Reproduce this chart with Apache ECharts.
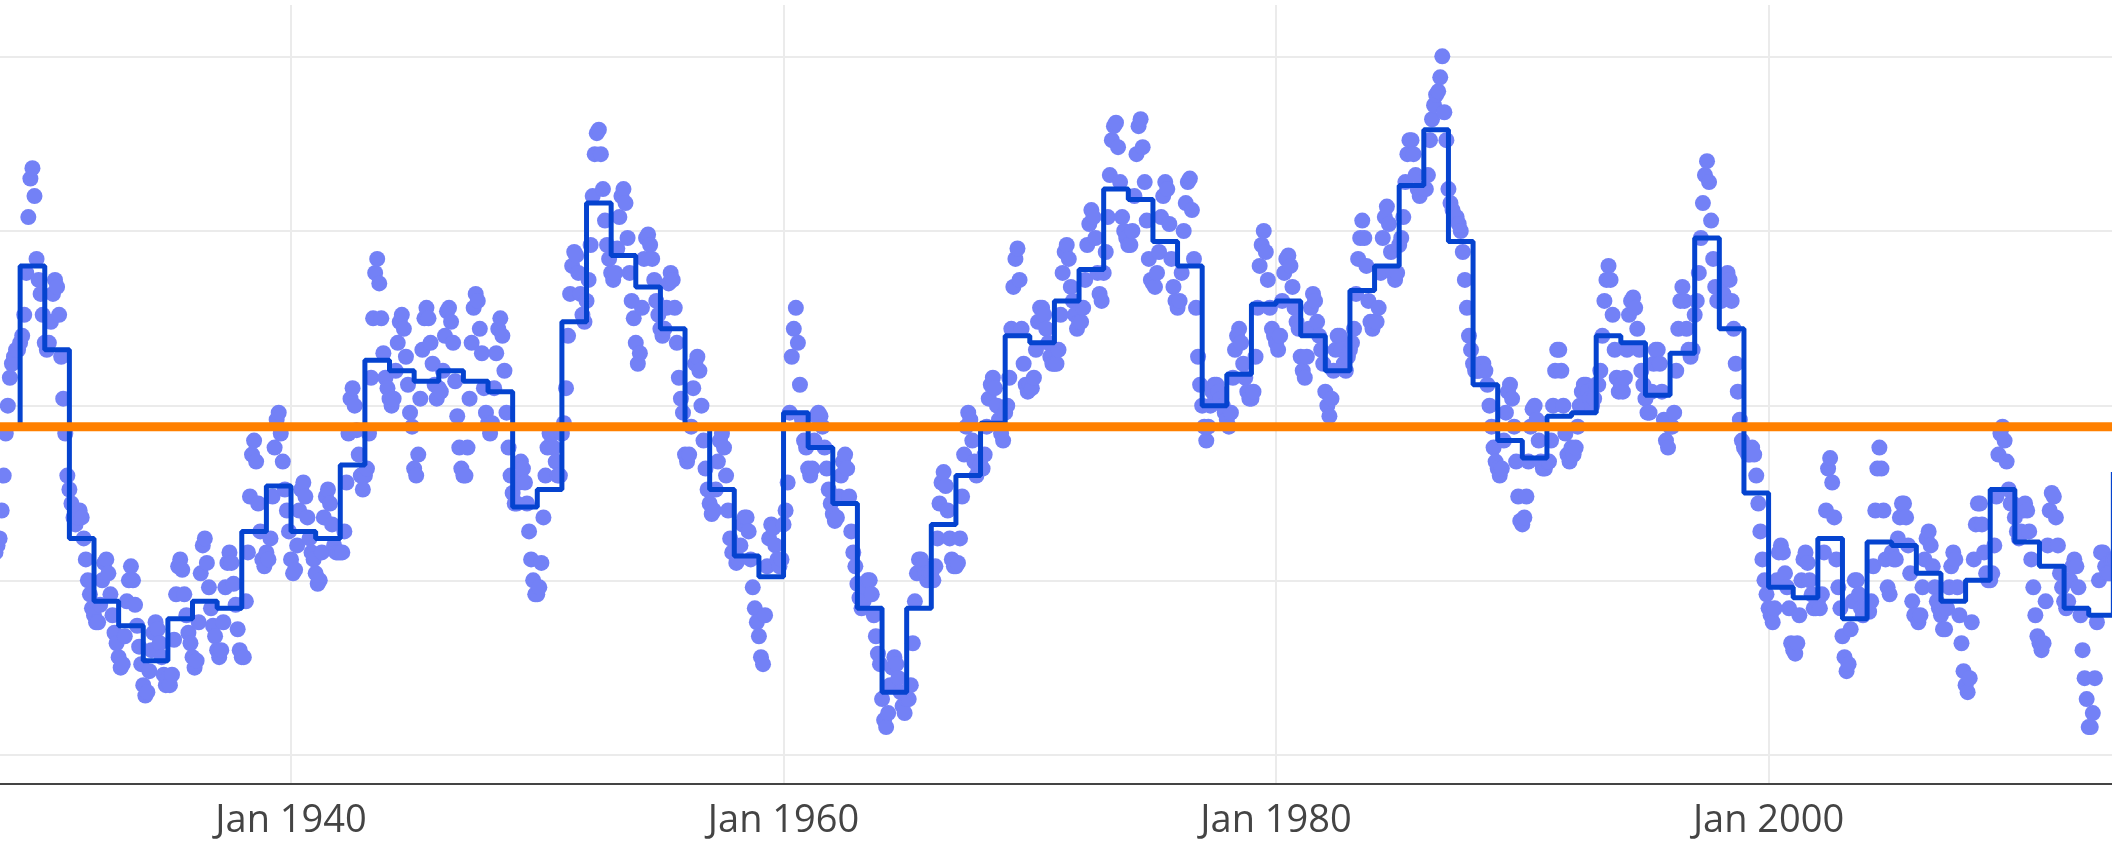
<!DOCTYPE html>
<html><head><meta charset="utf-8">
<script src="https://cdn.jsdelivr.net/npm/echarts@6/dist/echarts.min.js"></script>
<style>html,body{margin:0;padding:0;background:#fff}#chart{width:2112px;height:843px}</style>
</head><body><div id="chart"></div>
<script>
// Monthly lake levels (m), starting January of startYear
const startYear = 1928;
const lv1928_1939 = [
176.08,176.10,176.12,176.20,176.30,176.42,176.50,176.58,176.62,176.64,176.66,176.66,
176.68,176.70,176.76,176.88,177.04,177.15,177.18,177.10,176.92,176.86,176.82,176.76,
176.68,176.66,176.68,176.74,176.82,176.86,176.84,176.76,176.64,176.52,176.42,176.30,
176.26,176.22,176.18,176.16,176.18,176.20,176.18,176.12,176.06,176.00,175.96,175.92,
175.90,175.88,175.88,175.93,176.00,176.05,176.06,176.02,175.96,175.90,175.85,175.82,
175.78,175.75,175.76,175.84,175.94,176.00,176.04,176.00,175.93,175.87,175.81,175.76,
175.70,175.67,175.68,175.74,175.80,175.85,175.88,175.86,175.82,175.78,175.73,175.70,
175.72,175.70,175.73,175.83,175.96,176.04,176.06,176.03,175.96,175.90,175.85,175.82,
175.78,175.75,175.77,175.88,176.02,176.10,176.12,176.05,175.98,175.92,175.87,175.84,
175.80,175.78,175.80,175.88,175.98,176.05,176.08,176.05,175.99,175.93,175.86,175.80,
175.78,175.78,175.94,176.08,176.24,176.36,176.40,176.34,176.22,176.14,176.06,176.04,
176.08,176.06,176.12,176.24,176.38,176.46,176.48,176.42,176.34,176.26,176.20,176.14];
const lv1940s = [
176.06,176.02,176.03,176.10,176.20,176.26,176.28,176.24,176.18,176.12,176.08,176.06,
176.02,175.99,176.00,176.08,176.18,176.24,176.26,176.22,176.16,176.10,176.08,176.08,
176.08,176.08,176.14,176.28,176.42,176.52,176.55,176.50,176.43,176.36,176.30,176.26,
176.30,176.32,176.42,176.58,176.75,176.88,176.92,176.85,176.75,176.65,176.58,176.55,
176.52,176.50,176.52,176.60,176.68,176.74,176.76,176.72,176.64,176.56,176.48,176.44,
176.32,176.30,176.36,176.52,176.66,176.75,176.78,176.75,176.68,176.62,176.56,176.52,
176.55,176.54,176.60,176.70,176.77,176.78,176.74,176.68,176.57,176.47,176.38,176.32,
176.30,176.30,176.38,176.52,176.68,176.78,176.82,176.80,176.72,176.65,176.55,176.48,
176.45,176.42,176.45,176.55,176.65,176.72,176.75,176.70,176.60,176.48,176.38,176.30,
176.25,176.22,176.22,176.28,176.34,176.32,176.28,176.22,176.14,176.06,176.00,175.96];
const lv1950s = [
175.96,175.98,176.05,176.18,176.30,176.38,176.42,176.42,176.38,176.34,176.30,176.30,
176.42,176.45,176.55,176.70,176.82,176.90,176.94,176.93,176.88,176.82,176.76,176.74,
176.80,176.86,176.96,177.10,177.22,177.28,177.29,177.22,177.12,177.03,176.96,176.92,
176.88,176.86,176.88,176.95,177.04,177.10,177.12,177.08,176.98,176.88,176.80,176.75,
176.68,176.62,176.65,176.78,176.92,176.98,176.99,176.96,176.92,176.86,176.80,176.76,
176.72,176.70,176.72,176.78,176.85,176.88,176.86,176.78,176.68,176.58,176.52,176.48,
176.36,176.34,176.36,176.44,176.55,176.62,176.64,176.60,176.50,176.40,176.32,176.26,
176.22,176.19,176.20,176.26,176.34,176.40,176.42,176.38,176.30,176.20,176.12,176.08,
176.08,176.05,176.06,176.10,176.16,176.18,176.18,176.14,176.06,175.98,175.92,175.88,
175.84,175.78,175.76,175.90,176.04,176.12,176.16,176.15,176.10,176.06,176.04,176.06];
const lv1960s = [
176.16,176.20,176.28,176.48,176.64,176.72,176.78,176.68,176.56,176.46,176.40,176.38,
176.32,176.30,176.32,176.40,176.47,176.48,176.47,176.44,176.38,176.32,176.26,176.22,
176.19,176.17,176.18,176.24,176.30,176.34,176.36,176.32,176.24,176.14,176.08,176.04,
175.99,175.95,175.92,175.94,175.98,176.00,176.00,175.96,175.90,175.84,175.79,175.76,
175.66,175.60,175.58,175.62,175.70,175.75,175.78,175.76,175.72,175.68,175.64,175.62,
175.66,175.66,175.70,175.82,175.94,176.02,176.06,176.06,176.04,176.02,176.00,176.02,
176.02,176.00,176.04,176.12,176.22,176.28,176.31,176.27,176.20,176.12,176.06,176.04,
176.04,176.05,176.12,176.24,176.36,176.44,176.48,176.46,176.40,176.34,176.30,176.32,
176.33,176.32,176.36,176.44,176.52,176.56,176.58,176.55,176.50,176.46,176.42,176.40,
176.48,176.50,176.58,176.72,176.84,176.92,176.95,176.86,176.72,176.62,176.56,176.54];
const lv1970s = [
176.56,176.55,176.58,176.66,176.74,176.78,176.78,176.76,176.72,176.68,176.64,176.62,
176.62,176.62,176.66,176.76,176.88,176.94,176.96,176.92,176.84,176.80,176.76,176.72,
176.74,176.74,176.78,176.86,176.96,177.02,177.06,177.04,176.98,176.88,176.82,176.80,
176.88,176.94,177.04,177.16,177.26,177.30,177.31,177.24,177.14,177.04,177.00,176.98,
176.96,176.96,177.00,177.10,177.22,177.30,177.32,177.24,177.14,177.03,176.92,176.86,
176.85,176.84,176.88,176.94,177.04,177.10,177.14,177.12,177.02,176.92,176.84,176.80,
176.78,176.80,176.88,177.00,177.08,177.14,177.15,177.06,176.92,176.78,176.64,176.56,
176.50,176.44,176.40,176.44,176.50,176.54,176.56,176.56,176.54,176.52,176.50,176.48,
176.46,176.44,176.48,176.58,176.66,176.70,176.72,176.68,176.62,176.58,176.54,176.52,
176.52,176.54,176.64,176.78,176.90,176.96,177.00,176.94,176.86,176.78,176.72,176.70];
const lv1980s = [
176.68,176.66,176.70,176.80,176.88,176.92,176.93,176.90,176.84,176.78,176.74,176.72,
176.64,176.60,176.58,176.64,176.72,176.78,176.82,176.80,176.74,176.70,176.66,176.62,
176.54,176.50,176.47,176.52,176.60,176.66,176.70,176.70,176.66,176.62,176.60,176.64,
176.66,176.68,176.72,176.82,176.92,176.98,177.03,176.98,176.90,176.80,176.74,176.72,
176.74,176.74,176.78,176.88,176.98,177.04,177.07,177.02,176.94,176.88,176.86,176.88,
176.96,176.98,177.04,177.14,177.22,177.26,177.26,177.22,177.16,177.12,177.10,177.12,
177.12,177.12,177.16,177.26,177.32,177.36,177.39,177.40,177.44,177.50,177.34,177.26,
177.12,177.08,177.06,177.04,177.04,177.02,177.00,176.94,176.86,176.78,176.70,176.66,
176.62,176.60,176.60,176.60,176.62,176.62,176.60,176.56,176.50,176.44,176.38,176.34,
176.32,176.30,176.32,176.40,176.48,176.54,176.56,176.52,176.44,176.34,176.24,176.17];
const lv1990s = [
176.16,176.18,176.24,176.34,176.44,176.49,176.50,176.46,176.40,176.34,176.32,176.32,
176.34,176.34,176.40,176.50,176.60,176.66,176.66,176.60,176.50,176.42,176.36,176.34,
176.38,176.36,176.38,176.44,176.50,176.54,176.56,176.56,176.54,176.52,176.50,176.52,
176.56,176.56,176.60,176.70,176.80,176.86,176.90,176.86,176.76,176.66,176.58,176.54,
176.56,176.54,176.58,176.66,176.76,176.80,176.81,176.78,176.72,176.66,176.60,176.56,
176.52,176.48,176.48,176.54,176.62,176.66,176.66,176.62,176.54,176.46,176.40,176.38,
176.44,176.44,176.48,176.60,176.72,176.80,176.84,176.80,176.72,176.66,176.64,176.66,
176.76,176.80,176.88,176.98,177.08,177.16,177.20,177.14,177.03,176.92,176.84,176.80,
176.80,176.80,176.82,176.86,176.88,176.86,176.80,176.72,176.62,176.54,176.46,176.40,
176.38,176.37,176.36,176.36,176.38,176.36,176.30,176.22,176.14,176.06,176.00,175.96];
const lv2000s = [
175.92,175.90,175.88,175.92,176.00,176.08,176.10,176.08,176.02,175.98,175.92,175.82,
175.80,175.79,175.82,175.90,176.00,176.06,176.08,176.05,176.00,175.96,175.92,175.92,
175.94,175.92,175.96,176.08,176.20,176.32,176.35,176.28,176.18,176.06,175.98,175.92,
175.84,175.78,175.74,175.76,175.86,175.94,176.00,176.00,175.96,175.92,175.90,175.92,
175.92,175.91,175.94,176.04,176.20,176.32,176.38,176.32,176.20,176.06,175.98,175.96,
176.08,176.06,176.06,176.12,176.18,176.22,176.22,176.18,176.10,176.02,175.94,175.90,
175.90,175.88,175.90,175.98,176.06,176.12,176.14,176.10,176.04,175.98,175.94,175.92,
175.90,175.86,175.86,175.92,175.98,176.04,176.08,176.06,175.98,175.90,175.82,175.74,
175.70,175.68,175.72,175.88,176.06,176.16,176.22,176.22,176.16,176.08,176.02,176.00,
176.00,176.02,176.10,176.24,176.36,176.42,176.44,176.40,176.34,176.26,176.22,176.22];
const lv2010s = [
176.18,176.14,176.12,176.14,176.20,176.22,176.20,176.14,176.06,175.98,175.90,175.84,
175.82,175.80,175.82,175.94,176.10,176.20,176.25,176.24,176.18,176.10,176.02,175.98,
175.94,175.92,175.94,176.00,176.04,176.06,176.04,175.98,175.90,175.80,175.72,175.66,
175.58,175.58,175.62,175.72,175.88,176.00,176.08,176.08,176.04,176.02,176.02,176.06,
176.06,176.06];

// Annual means (m)
const annualYears = [1928,1929,1930,1931,1932,1933,1934,1935,1936,1937,1938,1939,
1940,1941,1942,1943,1944,1945,1946,1947,1948,1949,1950,1951,1952,1953,1954,1955,1956,1957,1958,1959,
1960,1961,1962,1963,1964,1965,1966,1967,1968,1969,1970,1971,1972,1973,1974,1975,1976,1977,1978,1979,
1980,1981,1982,1983,1984,1985,1986,1987,1988,1989,1990,1991,1992,1993,1994,1995,1996,1997,1998,1999,
2000,2001,2002,2003,2004,2005,2006,2007,2008,2009,2010,2011,2012,2013,2014];
const annualMeans = [176.44,176.90,176.66,176.12,175.94,175.87,175.77,175.89,175.94,175.92,176.14,176.27,
176.14,176.12,176.33,176.63,176.60,176.57,176.60,176.57,176.54,176.21,176.26,176.74,177.08,176.93,176.84,176.72,176.44,176.26,176.07,176.01,
176.48,176.38,176.22,175.92,175.68,175.92,176.16,176.30,176.45,176.70,176.68,176.80,176.89,177.12,177.09,176.97,176.90,176.50,176.59,176.79,
176.80,176.70,176.60,176.83,176.90,177.13,177.29,176.97,176.56,176.40,176.35,176.47,176.48,176.70,176.68,176.53,176.65,176.98,176.72,176.25,
175.98,175.95,176.12,175.89,176.11,176.10,176.02,175.94,176.00,176.26,176.11,176.04,175.92,175.90,176.31];
const longTermMean = 176.44;

const axisStartYear = 1920, axisEndYear = 2020, axisStepYears = 20;

const monthly = [].concat(lv1928_1939, lv1940s, lv1950s, lv1960s, lv1970s, lv1980s, lv1990s, lv2000s, lv2010s);
const scatterData = monthly.map((v, i) => [startYear + i / 12, v]);
const stepData = annualYears.map((y, i) => [y, annualMeans[i]]);
const meanData = [[axisStartYear, longTermMean], [axisEndYear, longTermMean]];

const chart = echarts.init(document.getElementById('chart'), null, {renderer: 'canvas'});
chart.setOption({
  animation: false,
  backgroundColor: '#ffffff',
  grid: {left: -201.5, right: -149.1, top: 5, bottom: 59, containLabel: false, outerBoundsMode: 'none'},
  xAxis: {
    type: 'value', min: axisStartYear, max: axisEndYear, interval: axisStepYears,
    axisLine: {show: true, onZero: false, lineStyle: {color: '#444444', width: 2}},
    axisTick: {show: false},
    axisLabel: {formatter: v => 'Jan ' + v, color: '#444444', fontFamily: 'Open Sans', fontSize: 38, margin: 18},
    splitLine: {show: true, lineStyle: {color: '#ebebeb', width: 2}}
  },
  yAxis: {
    type: 'value', min: 175.417, max: 177.647, splitNumber: 5, scale: true,
    axisLine: {show: false}, axisTick: {show: false}, axisLabel: {show: false},
    splitLine: {show: true, showMinLine: false, showMaxLine: false, lineStyle: {color: '#ebebeb', width: 2}}
  },
  series: [
    {type: 'scatter', data: scatterData, symbolSize: 16, itemStyle: {color: '#7381f6', opacity: 1}, z: 2, silent: true},
    {type: 'line', data: stepData, step: 'end', showSymbol: false, lineStyle: {color: '#0543cf', width: 5}, z: 3, silent: true},
    {type: 'line', data: meanData, showSymbol: false, lineStyle: {color: '#ff8000', width: 9}, z: 4, silent: true}
  ]
});
</script>
</body></html>
